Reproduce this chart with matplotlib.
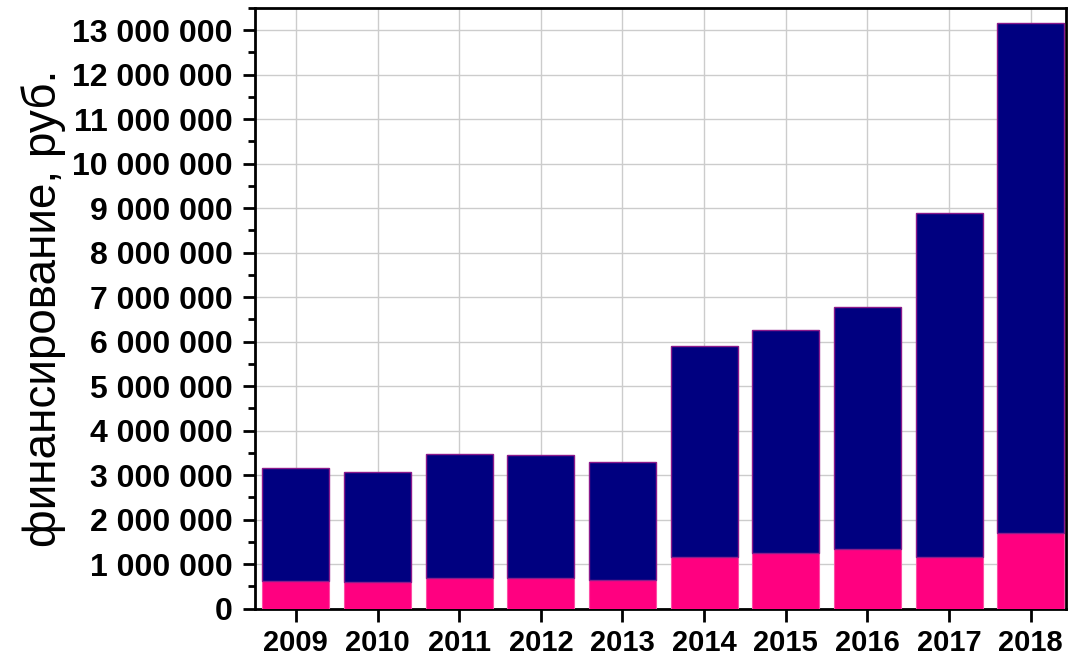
import matplotlib
matplotlib.use("Agg")
import matplotlib.pyplot as plt
from matplotlib.ticker import FuncFormatter, MultipleLocator

# Financing by year, rubles
years = [2009, 2010, 2011, 2012, 2013, 2014, 2015, 2016, 2017, 2018]
bottom_part = [620000, 600000, 680000, 680000, 650000, 1160000, 1250000, 1350000, 1150000, 1710000]
total = [3150000, 3080000, 3470000, 3450000, 3290000, 5900000, 6270000, 6770000, 8880000, 13150000]
top_part = [t - b for t, b in zip(total, bottom_part)]

plt.rcParams['font.family'] = ['Liberation Sans', 'DejaVu Sans']

fig = plt.figure(figsize=(10.68, 6.58), dpi=100)
ax = fig.add_axes([0.2388, 0.075, 0.7592, 0.913])

ax.bar(years, bottom_part, width=0.82, color='#ff0080', edgecolor='#ff4da6', linewidth=0.8, zorder=3)
ax.bar(years, top_part, bottom=bottom_part, width=0.82, color='#000080',
       edgecolor='#8b1a8b', linewidth=1.0, zorder=3)

ax.set_xlim(2008.5, 2018.43)
ax.set_ylim(0, 13500000)
ax.set_xticks(years)
ax.yaxis.set_major_locator(MultipleLocator(1000000))
ax.yaxis.set_minor_locator(MultipleLocator(500000))

def fmt(v, pos):
    return f"{int(v):,}".replace(",", " ")

ax.yaxis.set_major_formatter(FuncFormatter(fmt))
ax.grid(True, color='#cccccc', linewidth=1, zorder=0)

for s in ax.spines.values():
    s.set_linewidth(2)
ax.tick_params(axis='y', which='major', length=9, width=2, labelsize=23, pad=7, direction='out')
ax.tick_params(axis='x', which='major', length=9, width=2, labelsize=21, pad=6, direction='out')
ax.tick_params(axis='y', which='minor', length=5, width=2, direction='out')
for lab in ax.get_xticklabels() + ax.get_yticklabels():
    lab.set_fontweight('bold')

ax.set_ylabel('финансирование, руб.', fontsize=33)
ax.yaxis.set_label_coords(-0.233, 0.5)

fig.savefig('out.png', dpi=100)
